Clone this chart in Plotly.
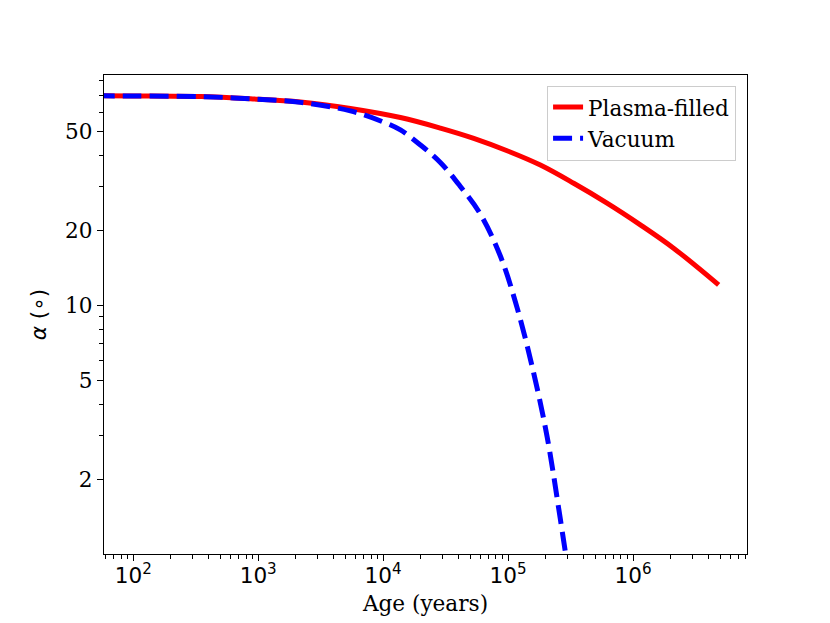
import plotly.graph_objects as go

# age in years and alignment angle in degrees
plasma_age = [50, 100, 347, 867, 2180, 5470, 13750, 28700, 53100, 98200,
              181300, 335000, 619000, 1.144e6, 2.11e6, 4.84e6]
plasma_alpha = [69.7, 69.6, 69.2, 67.8, 65.8, 62.0, 57.0, 51.7, 47.0, 41.9,
                36.7, 31.0, 25.8, 21.1, 17.0, 12.1]

vacuum_age = [50, 100, 347, 867, 2180, 5470, 10110, 13750, 19870, 28700,
              41500, 60000, 86700, 118000, 160300, 205100, 262000, 345000]
vacuum_alpha = [69.7, 69.6, 69.2, 67.8, 65.6, 60.6, 54.6, 50.8, 44.2, 37.6,
                30.1, 23.3, 15.8, 9.8, 5.34, 2.97, 1.38, 0.55]

x_tickvals = [1e2, 1e3, 1e4, 1e5, 1e6]
x_ticktext = ["10<sup>2</sup>", "10<sup>3</sup>", "10<sup>4</sup>",
              "10<sup>5</sup>", "10<sup>6</sup>"]
x_minor = [m * 10 ** k for k in range(1, 7) for m in range(2, 10)]

y_tickvals = [2, 5, 10, 20, 50]
y_ticktext = ["2", "5", "10", "20", "50"]
y_minor = [3, 4, 6, 7, 8, 9, 30, 40, 60, 70, 80]

fs = 21.6

fig = go.Figure()

fig.add_trace(go.Scatter(
    x=plasma_age, y=plasma_alpha, mode='lines', name='Plasma-filled',
    line=dict(color='#ff0000', width=5, shape='spline', smoothing=1.0)))

fig.add_trace(go.Scatter(
    x=vacuum_age, y=vacuum_alpha, mode='lines', name='Vacuum',
    line=dict(color='#0000ff', width=5, dash='19px,8px', shape='spline',
              smoothing=1.0)))

axis_common = dict(showline=True, linecolor='black', linewidth=1.4,
                   mirror=True, showgrid=False, zeroline=False,
                   ticks='outside', ticklen=6, tickwidth=1.4,
                   tickcolor='black')

fig.update_xaxes(
    type='log', range=[1.766, 6.912],
    tickmode='array', tickvals=x_tickvals, ticktext=x_ticktext,
    tickfont=dict(family='DejaVu Sans', size=fs, color='black'),
    ticklabelstandoff=-4,
    minor=dict(tickvals=x_minor, ticks='outside', ticklen=3.5,
               tickwidth=1, tickcolor='black'),
    title=dict(text='Age (years)', standoff=8,
               font=dict(family='DejaVu Serif', size=fs, color='black')),
    **axis_common)

fig.update_yaxes(
    type='log', range=[0.0, 1.927],
    tickmode='array', tickvals=y_tickvals, ticktext=y_ticktext,
    tickfont=dict(family='DejaVu Serif', size=fs, color='black'),
    minor=dict(tickvals=y_minor, ticks='outside', ticklen=3.5,
               tickwidth=1, tickcolor='black'),
    title=dict(text='<i>α</i> (∘)', standoff=12,
               font=dict(family='DejaVu Sans', size=fs, color='black')),
    **axis_common)

fig.update_layout(
    width=822, height=615,
    margin=dict(l=96, r=83, t=67, b=69),
    paper_bgcolor='white', plot_bgcolor='white',
    font=dict(family='DejaVu Serif', size=fs, color='black'),
    legend=dict(x=0.983, y=0.978, xanchor='right', yanchor='top',
                bgcolor='rgba(255,255,255,0.8)', bordercolor='#cccccc',
                borderwidth=1, font=dict(family='DejaVu Serif', size=fs)),
)

fig.write_html("out.html")
